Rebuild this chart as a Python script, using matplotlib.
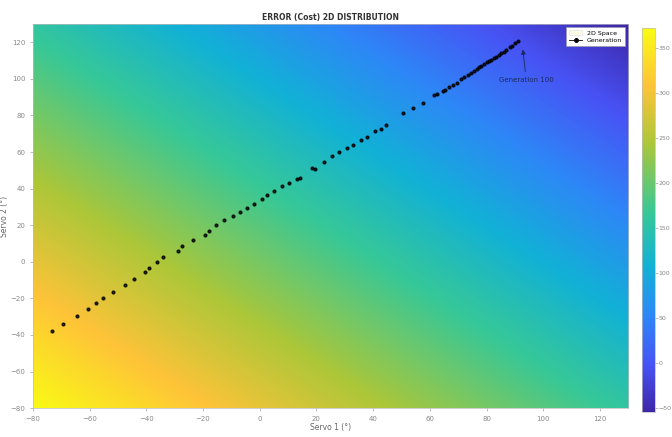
import numpy as np
import matplotlib
matplotlib.use("Agg")
import matplotlib.pyplot as plt
from matplotlib.colors import LinearSegmentedColormap
from matplotlib.patches import Patch
from matplotlib.lines import Line2D

# approximate MATLAB parula (R2014b anchors)
parula = LinearSegmentedColormap.from_list("parula", [
    (0.00, (0.2422, 0.1504, 0.6603)),
    (0.12, (0.2810, 0.3228, 0.9579)),
    (0.25, (0.1786, 0.5289, 0.9682)),
    (0.38, (0.0689, 0.6948, 0.8394)),
    (0.52, (0.2161, 0.7843, 0.5923)),
    (0.70, (0.6720, 0.7793, 0.2227)),
    (0.85, (0.9970, 0.7659, 0.2199)),
    (1.00, (0.9769, 0.9839, 0.0805)),
])

grid_s1 = [-80, 25, 130]
grid_s2 = [-80, 25, 130]
grid_cost = [[372, 265, 159],
             [265, 159, 52],
             [159, 52, -54]]

# generation best points (servo 1, servo 2)
gen_s1 = [-73.2, -69.3, -64.5, -60.7, -57.8, -55.4, -51.9, -47.4, -44.5, -40.3,
          -39.1, -36.1, -34.1, -28.8, -27.3, -23.7, -19.4, -17.8, -15.5, -12.6,
          -9.5, -6.9, -4.4, -2.0, 0.7, 2.7, 5.1, 7.8, 10.2, 13.2, 14.3, 18.5,
          19.6, 22.6, 25.6, 27.9, 30.9, 32.8, 35.6, 37.8, 40.6, 42.7, 44.5,
          50.4, 53.9, 57.5, 61.6, 62.5, 64.6, 65.5, 66.9, 68.0, 69.5, 71.1,
          72.0, 73.5, 74.6, 75.5, 76.5, 77.5, 78.2, 79.0, 80.0, 80.8, 81.7,
          82.5, 83.5, 84.3, 85.2, 86.0, 87.0, 88.2, 89.0, 90.0, 91.2]
gen_s2 = [-38.0, -33.9, -29.7, -26.0, -22.3, -19.8, -16.5, -12.4, -9.5, -5.5,
          -3.6, -0.3, 2.8, 5.8, 8.9, 12.0, 14.4, 17.1, 19.9, 22.6,
          25.1, 27.3, 29.6, 31.8, 34.6, 36.4, 38.6, 41.4, 42.9, 45.1, 46.0, 51.1,
          50.7, 54.8, 57.6, 59.9, 62.1, 63.6, 66.7, 68.3, 71.4, 72.8, 74.7,
          81.4, 84.2, 87.0, 91.2, 92.0, 93.4, 94.2, 95.6, 96.8, 98.0, 99.8,
          100.8, 102.2, 103.5, 104.4, 105.5, 106.3, 107.2, 108.0, 109.0, 109.7, 110.5,
          111.2, 112.2, 113.0, 113.9, 114.8, 116.0, 117.2, 118.2, 119.4, 120.6]

fig = plt.figure(figsize=(6.72, 4.37), dpi=100)
ax = fig.add_axes([0.049, 0.066, 0.886, 0.879])
cax = fig.add_axes([0.955, 0.057, 0.019, 0.879])

# pixel centres sit on the grid points; data is interpolated before colouring
dx = (grid_s1[1] - grid_s1[0]) / 2
dy = (grid_s2[1] - grid_s2[0]) / 2
img = ax.imshow(np.array(grid_cost), origin="lower", cmap=parula,
                vmin=-54, vmax=372, interpolation="bilinear",
                interpolation_stage="data", aspect="auto",
                extent=(grid_s1[0] - dx, grid_s1[-1] + dx,
                        grid_s2[0] - dy, grid_s2[-1] + dy))
ax.plot(gen_s1, gen_s2, linestyle="none", marker="o", markersize=2.0,
        color="black", alpha=0.8)

ax.annotate("Generation 100", xy=(gen_s1[-1] + 1.5, gen_s2[-1] - 3),
            xytext=(94, 101), ha="center", va="top", fontsize=5,
            color="#1a2a60",
            arrowprops=dict(arrowstyle="-|>", color="#1a2a60", lw=0.6,
                            mutation_scale=7))

ax.set_xlim(-80, 130)
ax.set_ylim(-80, 130)
ax.set_xticks(range(-80, 121, 20))
ax.set_yticks(range(-80, 121, 20))
ax.tick_params(labelsize=5, colors="#888888", length=2, width=0.4)
for s in ax.spines.values():
    s.set_color("#bbbbbb")
    s.set_linewidth(0.5)

ax.set_title("ERROR (Cost) 2D DISTRIBUTION", fontsize=5.5, fontweight="bold",
             color="#333333", pad=3)
ax.set_xlabel("Servo 1 (°)", fontsize=5.5, color="#666666", labelpad=1)
ax.set_ylabel("Servo 2 (°)", fontsize=5.5, color="#666666", labelpad=1)

handles = [Patch(facecolor="#fbfbe8", edgecolor="#dddddd", lw=0.4),
           Line2D([], [], color="black", marker="o", markersize=2.5, lw=0.6)]
leg = ax.legend(handles, ["2D Space", "Generation"], loc="upper right",
                fontsize=4.5, fancybox=False, framealpha=1, borderpad=0.5,
                handlelength=2.0, labelspacing=0.3)
leg.get_frame().set_linewidth(0.4)
leg.get_frame().set_edgecolor("#999999")

cb = fig.colorbar(img, cax=cax, ticks=range(-50, 351, 50))
cb.ax.tick_params(labelsize=4.5, colors="#888888", length=2, width=0.4, pad=1)
cb.outline.set_edgecolor("#bbbbbb")
cb.outline.set_linewidth(0.5)

fig.savefig("out.png", dpi=100)
